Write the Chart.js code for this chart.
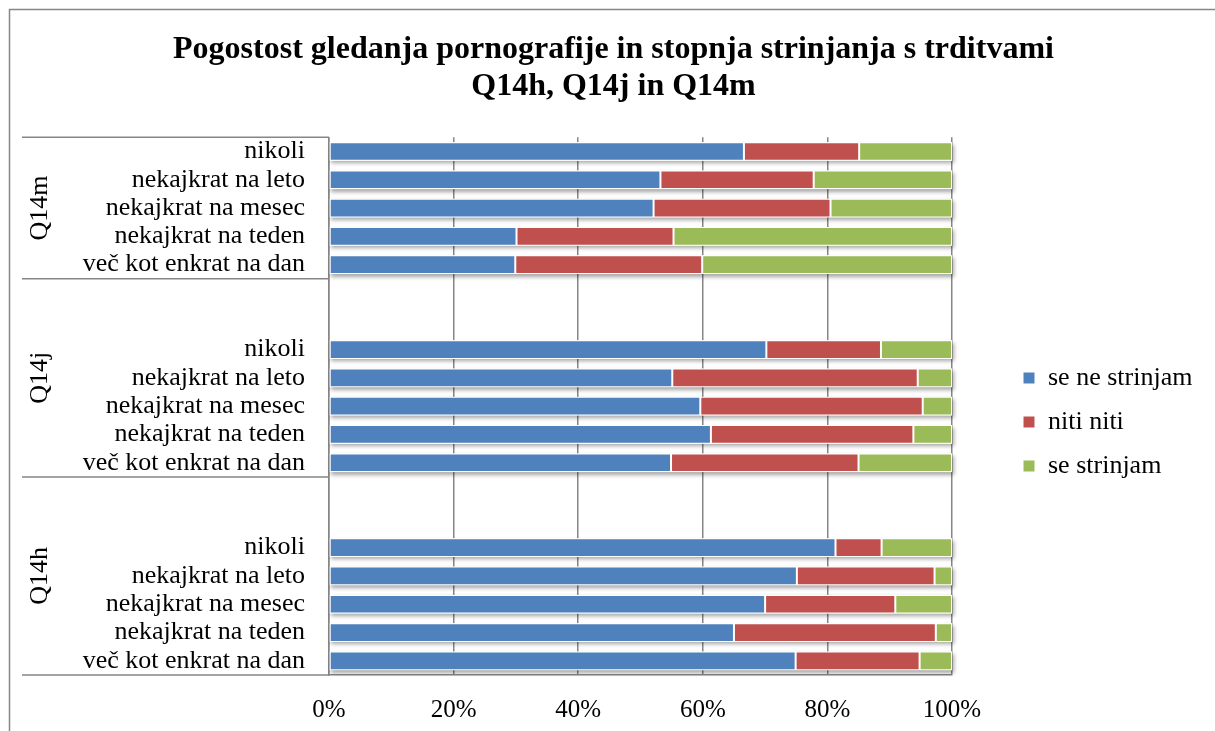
<!DOCTYPE html>
<html>
<head>
<meta charset="utf-8">
<script src="https://cdn.jsdelivr.net/npm/chart.js@4.4.1/dist/chart.umd.min.js"></script>
<style>
    html, body { margin: 0; padding: 0; background: #fff; }
    #wrap { width: 1215px; height: 731px; position: relative; }
</style>
</head>
<body>
<div id="wrap"><canvas id="chart"></canvas></div>
<script>
var serif = "'Times New Roman', 'Liberation Serif', serif"

var titleLines = ['Pogostost gledanja pornografije in stopnja strinjanja s trditvami', 'Q14h, Q14j in Q14m']
var frequencies = ['nikoli', 'nekajkrat na leto', 'nekajkrat na mesec', 'nekajkrat na teden', 'več kot enkrat na dan']
var groups = ['Q14m', 'Q14j', 'Q14h']
var blankRows = [0, 2, 2]
var seriesNames = ['se ne strinjam', 'niti niti', 'se strinjam']
var seriesColors = ['#4F81BD', '#C0504D', '#9BBB59']
var xTicks = [0, 20, 40, 60, 80, 100]

// shares in %, one array per group, rows in the order of frequencies
var seNeStrinjam = {
    Q14m: [66.6, 53.2, 52.1, 30.1, 29.9],
    Q14j: [70.2, 55.1, 59.6, 61.3, 54.9],
    Q14h: [81.3, 75.1, 70.0, 65.0, 74.9]
}
var nitiNiti = {
    Q14m: [18.5, 24.6, 28.4, 25.2, 30.0],
    Q14j: [18.4, 39.4, 35.7, 32.5, 30.1],
    Q14h: [7.4, 22.1, 20.9, 32.4, 19.9]
}
var seStrinjam = {
    Q14m: [14.9, 22.2, 19.5, 44.7, 40.1],
    Q14j: [11.4, 5.5, 4.7, 6.2, 15.0],
    Q14h: [11.3, 2.8, 9.1, 2.6, 5.2]
}

// Build the row list (blank rows separate the groups)
var labels = []
var rows = [[], [], []]
var groupSpans = []
var sources = [seNeStrinjam, nitiNiti, seStrinjam]

groups.forEach(function (g, gi) {
    var start = labels.length
    for (var b = 0; b < blankRows[gi]; b++) {
        labels.push('')
        rows.forEach(function (r) { r.push(null) })
    }
    frequencies.forEach(function (f, fi) {
        labels.push(f)
        sources.forEach(function (src, si) { rows[si].push(src[g][fi]) })
    })
    groupSpans.push({ name: g, start: start, end: labels.length - 1 })
})

var gray = '#868686'

// Soft shadow behind each stacked bar
var barShadow = {
    id: 'barShadow',
    beforeDatasetsDraw: function (chart) {
        var ctx = chart.ctx
        var metas = chart.getSortedVisibleDatasetMetas()
        ctx.save()
        ctx.shadowColor = 'rgba(0,0,0,0.35)'
        ctx.shadowBlur = 4
        ctx.shadowOffsetX = 1.5
        ctx.shadowOffsetY = 2.5
        ctx.fillStyle = '#ffffff'
        labels.forEach(function (l, i) {
            var left = Infinity, right = -Infinity, top = 0, h = 0
            metas.forEach(function (m) {
                var el = m.data[i]
                if (!el || rows[m.index][i] === null) return
                left = Math.min(left, el.x, el.base)
                right = Math.max(right, el.x, el.base)
                top = el.y - el.height / 2
                h = el.height
            })
            if (right > left) ctx.fillRect(left, top, right - left, h)
        })
        ctx.restore()
    }
}

// Group labels, separator lines and the outer frame
var groupAxis = {
    id: 'groupAxis',
    beforeInit: function (chart) {
        var fit = chart.legend.fit
        chart.legend.fit = function () {
            fit.apply(this, arguments)
            this.width = 263
        }
    },
    afterLayout: function (chart) {
        chart.legend.left = 1005
        chart.legend.top = 113
        chart.legend.bottom = 731
        chart.titleBlock.left = 12
    },
    afterDraw: function (chart) {
        var ctx = chart.ctx
        var y = chart.scales.y
        var area = chart.chartArea

        ctx.save()
        ctx.strokeStyle = gray
        ctx.lineWidth = 1.5
        ctx.beginPath()
        ctx.moveTo(9.5, 731)
        ctx.lineTo(9.5, 9.5)
        ctx.lineTo(1215, 9.5)
        ctx.stroke()

        groupSpans.forEach(function (s, i) {
            var y0 = y.getPixelForValue(s.start - 0.5)
            var y1 = y.getPixelForValue(s.end + 0.5)
            ctx.beginPath()
            if (i === 0) {
                ctx.moveTo(22, y0)
                ctx.lineTo(area.left, y0)
            }
            ctx.moveTo(22, y1)
            ctx.lineTo(area.left, y1)
            ctx.stroke()

            ctx.save()
            ctx.translate(40, (y0 + y1) / 2)
            ctx.rotate(-Math.PI / 2)
            ctx.fillStyle = '#000'
            ctx.font = '26px ' + serif
            ctx.textAlign = 'center'
            ctx.textBaseline = 'middle'
            ctx.fillText(s.name, 0, 0)
            ctx.restore()
        })
        ctx.restore()
    }
}

var datasets = seriesNames.map(function (name, i) {
    return {
        label: name,
        data: rows[i],
        backgroundColor: seriesColors[i],
        borderColor: '#ffffff',
        borderWidth: 1,
        borderSkipped: false,
        barPercentage: 0.66,
        categoryPercentage: 1
    }
})

var chart = new Chart(document.getElementById('chart'), {
    type: 'bar',
    data: { labels: labels, datasets: datasets },
    plugins: [barShadow, groupAxis],
    options: {
        indexAxis: 'y',
        responsive: true,
        maintainAspectRatio: false,
        animation: false,
        layout: { padding: 0 },
        scales: {
            x: {
                stacked: true,
                min: 0,
                max: 100,
                afterBuildTicks: function (scale) {
                    scale.ticks = xTicks.map(function (v) { return { value: v } })
                },
                afterFit: function (scale) { scale.height = 56 },
                grid: { color: gray, lineWidth: 1.5, drawTicks: false },
                border: { color: gray, width: 1.5 },
                ticks: {
                    padding: 20,
                    color: '#000',
                    font: { family: serif, size: 25 },
                    callback: function (v) { return v + '%' }
                }
            },
            y: {
                stacked: true,
                afterFit: function (scale) { scale.width = 329 },
                grid: { display: false, drawTicks: false },
                border: { color: gray, width: 1.5 },
                ticks: {
                    autoSkip: false,
                    padding: 24,
                    color: '#000',
                    font: { family: serif, size: 26 }
                }
            }
        },
        plugins: {
            title: {
                display: true,
                text: titleLines,
                color: '#000',
                font: { family: serif, size: 32, weight: 'bold', lineHeight: 1.13 },
                padding: { top: 32, bottom: 33 }
            },
            legend: {
                position: 'right',
                labels: {
                    color: '#000',
                    boxWidth: 12,
                    boxHeight: 12,
                    padding: 18,
                    font: { family: serif, size: 26 }
                }
            },
            tooltip: { enabled: false }
        }
    }
})
</script>
</body>
</html>
